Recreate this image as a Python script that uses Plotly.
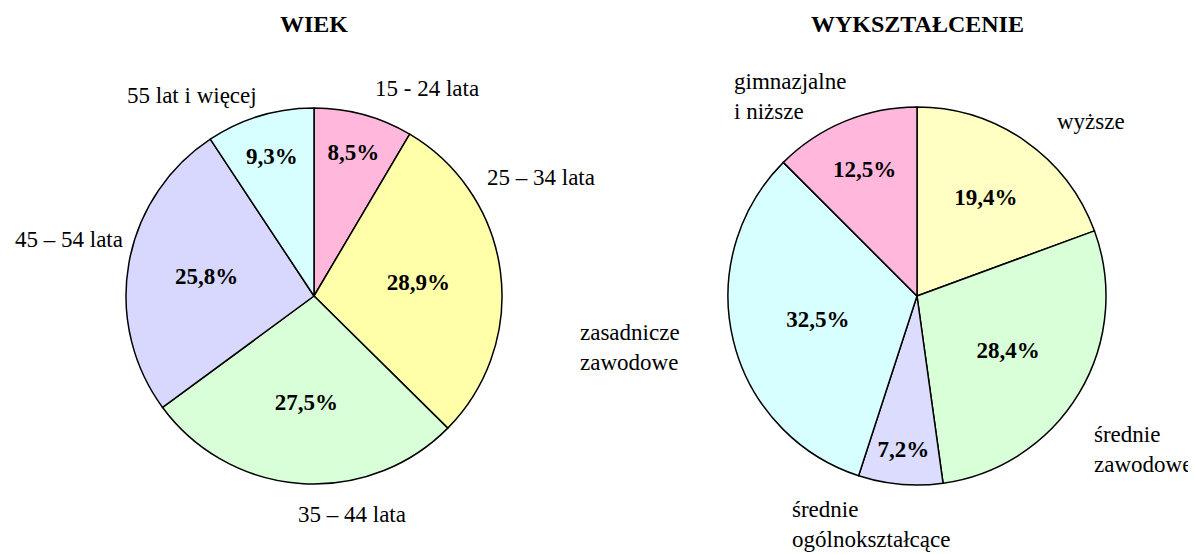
import plotly.graph_objects as go

# ---- data ----
age_labels = ["15 - 24 lata", "25 – 34 lata", "35 – 44 lata", "45 – 54 lata", "55 lat i więcej"]
age_values = [8.5, 28.9, 27.5, 25.8, 9.3]
age_colors = ["#FFB8DC", "#FFFFAA", "#D8FFD8", "#D8D8FF", "#D8FFFF"]

edu_labels = ["wyższe", "średnie<br>zawodowe", "średnie<br>ogólnokształcące", "zasadnicze<br>zawodowe", "gimnazjalne<br>i niższe"]
edu_values = [19.4, 28.4, 7.2, 32.5, 12.5]
edu_colors = ["#FFFFC4", "#D8FFD8", "#DCDCFF", "#D8FFFF", "#FFB8DC"]

titles = ["WIEK", "WYKSZTAŁCENIE"]

FONT = "Times New Roman"

def pct(v):
    return "<b>" + f"{v:.1f}".replace(".", ",") + "%</b>"

W, H = 1196, 554
OFF = 8  # page body margin

def px(x, y):
    return (x - OFF) / W, 1 - (y - OFF) / H

def dom(cx, cy, r):
    x0, y1 = px(cx - r, cy - r)
    x1, y0 = px(cx + r, cy + r)
    return dict(x=[x0, x1], y=[y0, y1])

fig = go.Figure()

fig.add_trace(go.Pie(
    labels=age_labels, values=age_values, sort=False, direction="clockwise", rotation=0,
    marker=dict(colors=age_colors, line=dict(color="black", width=1.5)),
    text=[pct(v) for v in age_values], textinfo="text", textposition="inside",
    insidetextorientation="horizontal",
    textfont=dict(family=FONT, size=23, color="black"),
    domain=dom(314, 296, 188),
    showlegend=False, hoverinfo="label+percent",
))

fig.add_trace(go.Pie(
    labels=edu_labels, values=edu_values, sort=False, direction="clockwise", rotation=0,
    marker=dict(colors=edu_colors, line=dict(color="black", width=1.5)),
    text=[pct(v) for v in edu_values], textinfo="text", textposition="inside",
    insidetextorientation="horizontal",
    textfont=dict(family=FONT, size=23, color="black"),
    domain=dom(917, 296, 189),
    showlegend=False, hoverinfo="label+percent",
))

ann = []
for t, (x, y) in zip(titles, [(314, 24), (917, 24)]):
    ax, ay = px(x, y)
    ann.append(dict(text=f"<b>{t}</b>", x=ax, y=ay, xanchor="center", yanchor="middle",
                    font=dict(family=FONT, size=24, color="black")))

age_pos = [((373, 88), "left"), ((485, 178), "left"), ((352, 514), "center"),
           ((125, 240), "right"), ((192, 95), "center")]
for lab, ((x, y), anc) in zip(age_labels, age_pos):
    ax, ay = px(x, y)
    ann.append(dict(text=lab, x=ax, y=ay, xanchor=anc, yanchor="middle",
                    font=dict(family=FONT, size=23, color="black")))

edu_pos = [((1055, 121), "left"), ((1092, 449), "left"), ((790, 524), "left"),
           ((578, 347), "left"), ((732, 96), "left")]
for lab, ((x, y), anc) in zip(edu_labels, edu_pos):
    ax, ay = px(x, y)
    ann.append(dict(text=lab, x=ax, y=ay, xanchor=anc, yanchor="middle", align="left",
                    font=dict(family=FONT, size=23, color="black")))

for a in ann:
    a.update(xref="paper", yref="paper", showarrow=False)

fig.update_layout(
    width=W, height=H,
    margin=dict(l=0, r=0, t=0, b=0),
    paper_bgcolor="white", plot_bgcolor="white",
    annotations=ann,
    font=dict(family=FONT),
)

fig.write_html("out.html")
